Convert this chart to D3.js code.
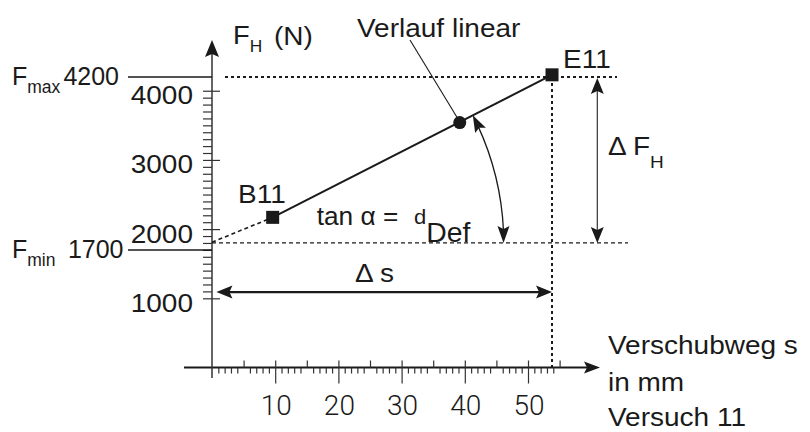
<!DOCTYPE html>
<html><head><meta charset="utf-8">
<script src="https://cdn.jsdelivr.net/npm/d3@7"></script>
<style>body{margin:0;background:#fff}svg{display:block}</style>
</head><body>
<script>
// ---- data ----
const xTickValues = [10, 20, 30, 40, 50];
const yTickValues = [1000, 2000, 3000, 4000];
const pointLabels = ["B11", "E11"];
const pointS = [9.6, 53.8];
const pointF = [2170, 4230];
const midS = [39.2];
const midF = [3540];
const limitNames = ["max", "min"];
const limitValues = [4200, 1700];
const extensionS = [0, 9.6];
const extensionF = [1810, 2170];
const baseF = 1800;       // dashed reference level for the angle
const deltaSLevel = 1090; // level of the Δs dimension arrow

// ---- setup ----
const W = 810, H = 432, ink = "#1a1a1a";
const svg = d3.select("body").append("svg").attr("width", W).attr("height", H);
const x = d3.scaleLinear().domain([0, 55]).range([212, 559.6]);
const y = d3.scaleLinear().domain([0, 4200]).range([367.5, 76.9]);
const FONT = "'Liberation Sans', Arial, Helvetica, sans-serif";

function stext(x0, y0, str, size, anchor = "start", sx = 1.12) {
  const g = svg.append("g").attr("transform", `translate(${x0},${y0}) scale(${sx},1)`);
  return g.append("text").attr("font-size", size).attr("text-anchor", anchor)
    .attr("font-family", FONT).attr("fill", ink).text(str);
}
// text with a subscript part in one text element
function subtext(x0, y0, main, sub, size, subSize, dy, sx = 1.12) {
  const g = svg.append("g").attr("transform", `translate(${x0},${y0}) scale(${sx},1)`);
  const t = g.append("text").attr("font-size", size).attr("font-family", FONT).attr("fill", ink);
  t.append("tspan").text(main);
  t.append("tspan").attr("dy", dy).attr("font-size", subSize).text(sub);
  return t;
}
function line(x1, y1, x2, y2, w, dash, col) {
  const l = svg.append("line").attr("x1", x1).attr("y1", y1).attr("x2", x2).attr("y2", y2)
    .attr("stroke", col || ink).attr("stroke-width", w);
  if (dash) l.attr("stroke-dasharray", dash);
  return l;
}
function arrowHead(tx, ty, dx, dy, len, wid, notch = 3) {
  const n = Math.hypot(dx, dy); dx /= n; dy /= n;
  const bx = tx - dx * len, by = ty - dy * len;
  const px = -dy, py = dx;
  const nx = bx + dx * notch, ny = by + dy * notch;
  svg.append("path")
    .attr("d", `M${tx},${ty}L${bx + px * wid / 2},${by + py * wid / 2}L${nx},${ny}L${bx - px * wid / 2},${by - py * wid / 2}Z`)
    .attr("fill", ink);
}

// ---- axis lines ----
const x0 = x(0), y0 = y(0);
line(184, y0, 590, y0, 2.2);
arrowHead(600, y0, 1, 0, 16, 12);
line(x0, 378, x0, 52, 1.5, null, "#333");
arrowHead(x0, 40, 0, -1, 17, 14);

// ---- x ticks ----
const tickStyle = g => { g.select(".domain").remove(); g.selectAll("line").attr("stroke", "#333").attr("stroke-width", 1.2); g.selectAll("text").remove(); };
const minorX = d3.range(0, 56).filter(v => v % 5 !== 0);
svg.append("g").attr("transform", `translate(0,${y0})`)
  .call(d3.axisBottom(x).tickValues(minorX).tickSize(6).tickFormat("")).call(tickStyle);
svg.append("g").attr("transform", `translate(0,${y0})`)
  .call(d3.axisTop(x).tickValues(d3.range(5, 56, 5)).tickSize(7).tickFormat("")).call(tickStyle);
svg.append("g").attr("transform", `translate(0,${y0})`)
  .call(d3.axisBottom(x).tickValues(xTickValues).tickSize(16).tickFormat("")).call(tickStyle);

svg.append("g").selectAll("text").data(xTickValues).join("text")
  .attr("x", d => x(d) + 1).attr("y", 415).attr("text-anchor", "middle")
  .attr("font-family", "Roboto, 'Liberation Sans', sans-serif").attr("font-weight", 300)
  .attr("font-size", 28).attr("fill", ink).text(d => d);

// ---- y ticks ----
svg.append("g").attr("transform", `translate(${x0},0)`)
  .call(d3.axisLeft(y).tickValues(d3.range(1000, 4001, 100)).tickSize(9).tickFormat("")).call(tickStyle);
svg.append("g").attr("transform", `translate(${x0},0)`)
  .call(d3.axisRight(y).tickValues(yTickValues).tickSize(8).tickFormat("")).call(tickStyle);
yTickValues.forEach(v => stext(193, y(v) + 13.5, String(v), 25, "end"));

// ---- F_max / F_min ----
limitValues.forEach((v, i) => {
  line(128, y(v), x0, y(v), 1.5);
  const base = y(v) + 8;
  subtext(12, base, "F", limitNames[i], 25, 17.5, 8, 1.0);
  stext(i === 0 ? 119 : 123.5, base, String(v), 25, "end", 1.0);
});

// ---- reference lines ----
line(225, y(limitValues[0]), 617, y(limitValues[0]), 2, "3,3");
line(x(pointS[1]), y(limitValues[0]), x(pointS[1]), y0, 2, "3,3");
line(x0, y(baseF), 628, y(baseF), 1.2, "4,3");

// ---- main curve ----
line(x(extensionS[0]), y(extensionF[0]), x(extensionS[1]), y(extensionF[1]), 1.6, "4,3");
line(x(pointS[0]), y(pointF[0]), x(pointS[1]), y(pointF[1]), 2);
svg.append("g").selectAll("rect").data(pointS).join("rect")
  .attr("x", d => x(d) - 6.5).attr("y", (d, i) => y(pointF[i]) - 6.5)
  .attr("width", 13).attr("height", 13).attr("fill", ink);
svg.append("g").selectAll("circle").data(midS).join("circle")
  .attr("cx", d => x(d)).attr("cy", (d, i) => y(midF[i])).attr("r", 6.5).attr("fill", ink);

// ---- leader ----
line(410, 40, x(midS[0]) - 2, y(midF[0]) - 4, 1.1);

// ---- angle arc ----
const ax1 = x(pointS[0]), ay1 = y(pointF[0]), ax2 = x(pointS[1]), ay2 = y(pointF[1]);
const slope = (ay2 - ay1) / (ax2 - ax1);
const cy = y(baseF), cx = ax1 + (cy - ay1) / slope;
const theta = Math.atan(-slope), R = 281;
const topX = cx + R * Math.cos(theta), topY = cy - R * Math.sin(theta);
svg.append("path")
  .attr("d", `M${cx + R},${cy - 12}A${R},${R} 0 0 0 ${cx + R * Math.cos(theta - 0.04)},${cy - R * Math.sin(theta - 0.04)}`)
  .attr("fill", "none").attr("stroke", ink).attr("stroke-width", 1.3);
arrowHead(cx + R, cy, 0, 1, 17, 12);
arrowHead(topX, topY, -Math.sin(theta), -Math.cos(theta), 17, 12);

// ---- ΔF_H dimension ----
const dfx = 597.3;
line(dfx, y(limitValues[0]) + 10, dfx, y(baseF) - 10, 1.2, null, "#333");
arrowHead(dfx, y(limitValues[0]) + 1, 0, -1, 16, 13);
arrowHead(dfx, y(baseF), 0, 1, 16, 13);
subtext(608, 155, "Δ F", "H", 25, 17, 13);

// ---- Δs dimension ----
const dsy = y(deltaSLevel);
line(x(0.7) + 8, dsy, x(pointS[1]) - 8, dsy, 2.4);
arrowHead(x(0.7), dsy, -1, 0, 16, 13);
arrowHead(x(pointS[1]), dsy, 1, 0, 16, 13);
stext(355, 282, "Δ s", 25);

// ---- labels ----
subtext(233, 44, "F", "H", 26, 16.5, 8, 1.05);
stext(274, 45, "(N)", 25);
stext(357, 37, "Verlauf linear", 25);
stext(x(pointS[1]) + 11, 68, pointLabels[1], 25);
stext(238, 203, pointLabels[0], 25);
// tan α = d_Def
{
  const g = svg.append("g").attr("transform", `translate(316.7,225) scale(1.05,1)`);
  const t = g.append("text").attr("font-size", 25).attr("font-family", FONT).attr("fill", ink);
  t.append("tspan").text("tan α =");
  t.append("tspan").attr("dx", 15).attr("dy", -1).attr("font-size", 21).text("d");
  t.append("tspan").attr("dx", 0).attr("dy", 18).attr("font-size", 27).text("Def");
}
stext(608, 354, "Verschubweg s", 25);
stext(608, 391, "in mm", 25);
stext(608, 426, "Versuch 11", 25);
</script>
</body></html>
